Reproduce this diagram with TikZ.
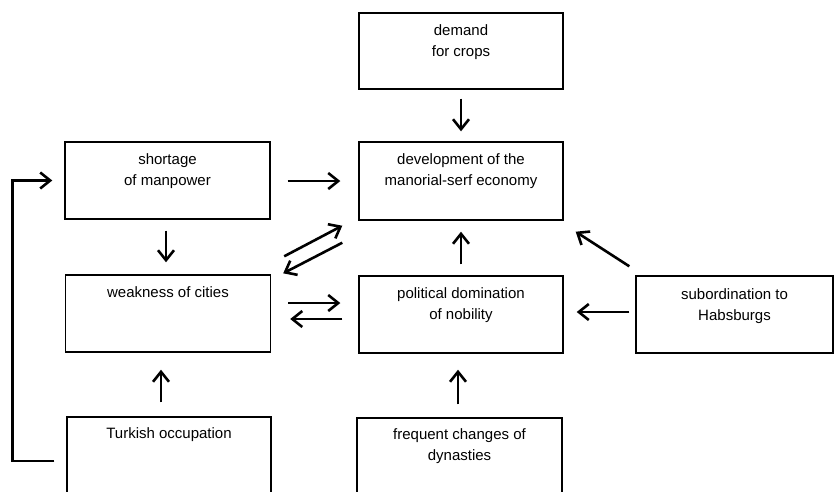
\documentclass[tikz,border=0pt]{standalone}
\usepackage{fontspec}
\setmainfont{Liberation Sans}
\usetikzlibrary{arrows.meta,calc}
\begin{document}
\begin{tikzpicture}[x=1pt,y=-1pt,
  box/.style={draw, line width=1.4pt, inner sep=0pt},
  txt/.style={font=\fontsize{15}{21}\selectfont, align=center, inner sep=0pt, anchor=north},
  arr/.style={line width=2.6pt, -{Straight Barb[length=10pt,width=16pt,line width=2.6pt]}}
]
\clip (0,0) rectangle (834,491);
\fill[white] (0,0) rectangle (834,491);
% boxes
\node[box, minimum width=204pt, minimum height=76pt] (demand) at (461,51) {};
\node[box, minimum width=204pt, minimum height=78pt] (devel) at (461,181) {};
\node[box, minimum width=205pt, minimum height=77pt] (shortage) at (167.5,180.5) {};
\node[box, minimum width=205pt, minimum height=77pt] (weakness) at (168,313.5) {};
\node[box, minimum width=204pt, minimum height=77pt] (political) at (461,314.5) {};
\node[box, minimum width=197pt, minimum height=77pt] (subord) at (734.5,314.5) {};
\node[box, minimum width=204pt, minimum height=88pt] (turkish) at (169,461) {};
\node[box, minimum width=205pt, minimum height=87pt] (frequent) at (459.5,461.5) {};
% texts
\node[txt] (demandt) at ($(demand.north)+(0,12)$) {demand\\for crops};
\node[txt] (develt) at ($(devel.north)+(0,12)$) {development of the\\manorial-serf economy};
\node[txt] (shortaget) at ($(shortage.north)+(0,12)$) {shortage\\of manpower};
\node[txt] (weaknesst) at ($(weakness.north)+(0,12)$) {weakness of cities};
\node[txt] (politicalt) at ($(political.north)+(0,12)$) {political domination\\of nobility};
\node[txt] (subordt) at ($(subord.north)+(0,13)$) {subordination to\\Habsburgs};
\node[txt] (turkisht) at ($(turkish.north)+(0,11)$) {Turkish occupation};
\node[txt] (frequentt) at ($(frequent.north)+(0,11)$) {frequent changes of\\dynasties};
% arrows
\draw[arr, shorten <=9pt, shorten >=10pt] (demand) -- (devel);
\draw[arr] ($(shortage.east)+(17,0.5)$) -- ($(devel.west)+(-18,0)$);
\draw[arr] ($(shortage.south)+(-1.5,11)$) -- ($(weakness.north)+(-2,-12)$);
\draw[arr] ($(weakness.north east)+(13,-18)$) -- ($(devel.south west)+(-16,5)$);
\draw[arr] ($(devel.south west)+(-16,22)$) -- ($(weakness.north east)+(12,-1)$);
\draw[arr] ($(weakness.east)+(17,-10.5)$) -- ($(political.west)+(-18,-11.5)$);
\draw[arr] ($(political.west)+(-16,4.5)$) -- ($(weakness.east)+(19,5.5)$);
\draw[arr, shorten <=11pt, shorten >=11pt] (political) -- (devel);
\draw[arr] ($(subord.north west)+(-6,-9)$) -- ($(devel.south east)+(12,11)$);
\draw[arr] ($(subord.west)+(-6,-2.5)$) -- ($(political.east)+(13,-2.5)$);
\draw[arr] ($(turkish.north)+(-8,-14)$) -- ($(weakness.south)+(-7,17)$);
\draw[arr] ($(frequent.north)+(-1.5,-13)$) -- ($(political.south)+(-3,16)$);
\draw[arr, line join=miter] ($(turkish.west)+(-12,0)$) -| ($(shortage.west)+(-52,0)$) -- ($(shortage.west)+(-12,0)$);
\end{tikzpicture}
\end{document}
